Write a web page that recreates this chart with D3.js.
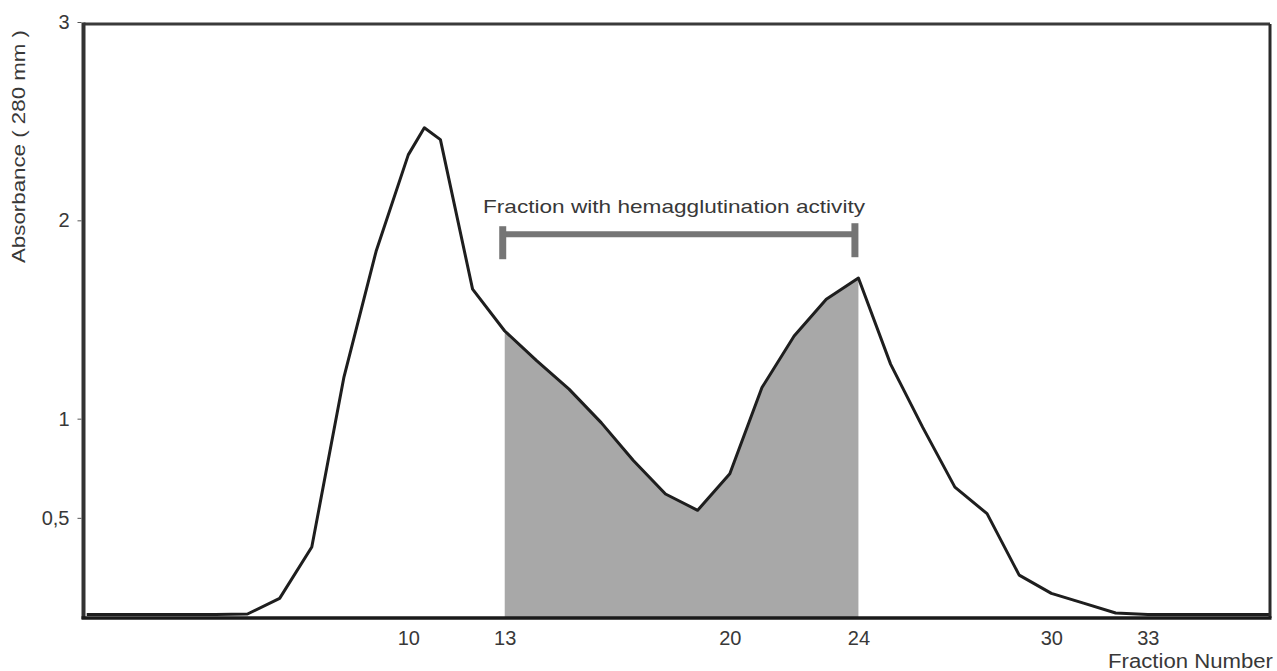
<!DOCTYPE html>
<html>
<head>
<meta charset="utf-8">
<script src="https://cdn.jsdelivr.net/npm/d3@7"></script>
<style>
  html, body { margin: 0; padding: 0; background: #ffffff; }
  svg { display: block; }
  text { font-family: "Liberation Sans", Arial, sans-serif; fill: #383838; }
</style>
</head>
<body>
<svg id="chart" width="1277" height="671"></svg>
<script>
// ---- data ----
const fractions  = [0, 1, 2, 3, 4, 5, 6, 7, 8, 9, 10, 10.5, 11, 12, 13, 14, 15, 16, 17, 18, 19, 20,
                    21, 22, 23, 24, 25, 26, 27, 28, 29, 30, 31, 32, 33, 34, 35, 36, 37];
const absorbance = [0.013, 0.013, 0.013, 0.013, 0.013, 0.015, 0.094, 0.353, 1.21, 1.844, 2.33, 2.467, 2.407,
                    1.653, 1.442, 1.291, 1.149, 0.98, 0.789, 0.62, 0.538, 0.722,
                    1.157, 1.417, 1.602, 1.709, 1.275, 0.956, 0.655, 0.521, 0.211, 0.119, 0.07, 0.02,
                    0.013, 0.013, 0.013, 0.013, 0.013];
const xTickValues = [10, 13, 20, 24, 30, 33];
const yTickValues = [0.5, 1, 2, 3];
const activeRange = [13, 24];
const bracketLevel = 1.93;
const annotationText = "Fraction with hemagglutination activity";
const xTitle = "Fraction Number";
const yTitle = "Absorbance ( 280 mm )";

const data = fractions.map((f, i) => ({ f: f, v: absorbance[i] }));

const svg = d3.select("#chart");
const pLeft = 83.5, pRight = 1270, pTop = 22, pBottom = 617;

const x = d3.scaleLinear().domain([-0.1, 36.8]).range([pLeft, pRight]);
const y = d3.scaleLinear().domain([0, 3]).range([pBottom, pTop]);

svg.append("defs").append("clipPath").attr("id", "plot")
  .append("rect").attr("x", pLeft).attr("y", 0).attr("width", pRight - pLeft).attr("height", pBottom);

// shaded active fraction
const shaded = data.filter(d => d.f >= activeRange[0] && d.f <= activeRange[1]);
svg.append("path")
  .datum(shaded)
  .attr("fill", "#a8a8a8")
  .attr("d", d3.area().x(d => x(d.f)).y0(y(0)).y1(d => y(d.v)));

// curve
svg.append("path")
  .datum(data)
  .attr("clip-path", "url(#plot)")
  .attr("fill", "none")
  .attr("stroke", "#1e1e1e")
  .attr("stroke-width", 3)
  .attr("stroke-linejoin", "round")
  .attr("d", d3.line().x(d => x(d.f)).y(d => y(d.v)));

// frame
svg.append("line").attr("x1", pLeft).attr("x2", pRight).attr("y1", 24).attr("y2", 24)
  .attr("stroke", "#3a3a3a").attr("stroke-width", 3);
svg.append("line").attr("x1", pRight).attr("x2", pRight).attr("y1", 24).attr("y2", pBottom + 1)
  .attr("stroke", "#2a2a2a").attr("stroke-width", 3);
svg.append("line").attr("x1", pLeft).attr("x2", pLeft).attr("y1", 22.5).attr("y2", pBottom + 2)
  .attr("stroke", "#333").attr("stroke-width", 4);
svg.append("line").attr("x1", pLeft - 2).attr("x2", pRight + 1.5).attr("y1", pBottom + 1).attr("y2", pBottom + 1)
  .attr("stroke", "#1a1a1a").attr("stroke-width", 3.5);

// y axis
const yAxis = svg.append("g")
  .attr("transform", `translate(${pLeft - 2},0)`)
  .call(d3.axisLeft(y).tickValues(yTickValues).tickSize(4).tickPadding(8)
        .tickFormat(d => String(d).replace(".", ",")));
yAxis.select(".domain").remove();
yAxis.selectAll(".tick line").attr("stroke", "#555");
yAxis.selectAll(".tick text").attr("font-size", 20).attr("fill", "#383838")
  .style("font-family", '"Liberation Sans", Arial, sans-serif');

// x axis
const xAxis = svg.append("g")
  .attr("transform", `translate(0,${pBottom})`)
  .call(d3.axisBottom(x).tickValues(xTickValues).tickSize(0).tickPadding(14));
xAxis.select(".domain").remove();
xAxis.selectAll(".tick text").attr("font-size", 20).attr("fill", "#383838")
  .style("font-family", '"Liberation Sans", Arial, sans-serif');

// axis titles
svg.append("text")
  .attr("x", 1108).attr("y", 668)
  .attr("font-size", 20)
  .attr("textLength", 165).attr("lengthAdjust", "spacingAndGlyphs")
  .text(xTitle);

svg.append("text")
  .attr("transform", "translate(25,146.5) rotate(-90)")
  .attr("text-anchor", "middle")
  .attr("font-size", 19)
  .attr("textLength", 233).attr("lengthAdjust", "spacingAndGlyphs")
  .text(yTitle);

// bracket annotation
const bx1 = x(activeRange[0]) - 2, bx2 = x(activeRange[1]) - 3.5, by = y(bracketLevel);
const bracket = svg.append("g").attr("stroke", "#757575").attr("fill", "none");
bracket.append("line").attr("x1", bx1).attr("x2", bx2).attr("y1", by).attr("y2", by).attr("stroke-width", 6);
bracket.append("line").attr("x1", bx1).attr("x2", bx1).attr("y1", by - 8).attr("y2", by + 25).attr("stroke-width", 7);
bracket.append("line").attr("x1", bx2).attr("x2", bx2).attr("y1", by - 11).attr("y2", by + 23).attr("stroke-width", 7);

svg.append("text")
  .attr("x", 483).attr("y", 213)
  .attr("font-size", 19)
  .attr("textLength", 382).attr("lengthAdjust", "spacingAndGlyphs")
  .text(annotationText);
</script>
</body>
</html>
